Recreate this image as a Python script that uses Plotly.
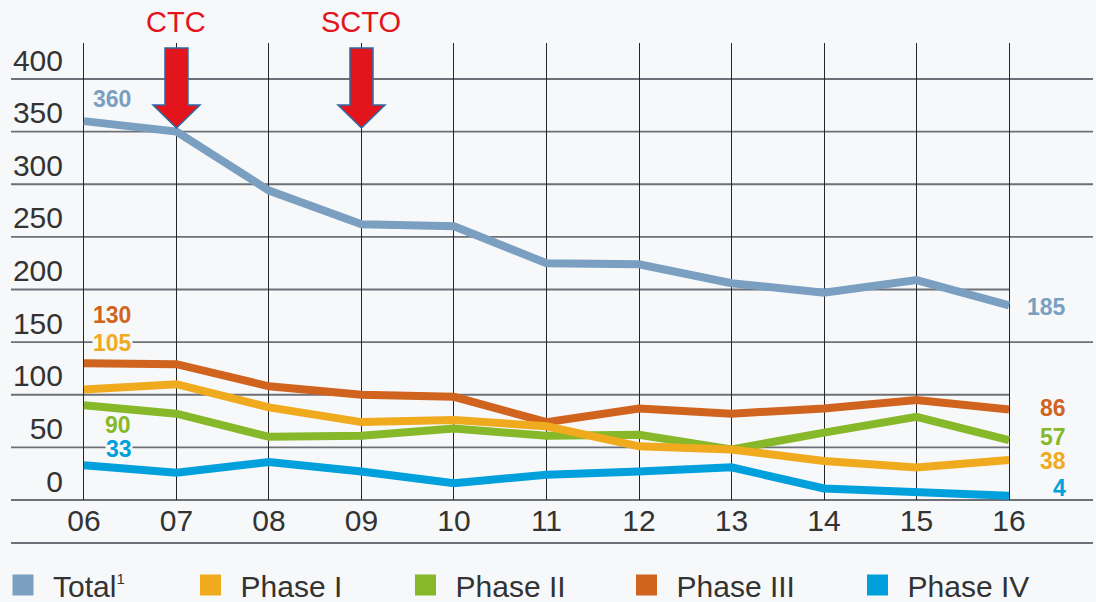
import plotly.graph_objects as go

# Pipeline project counts per year, by development phase
years = ["06", "07", "08", "09", "10", "11", "12", "13", "14", "15", "16"]
total = [360, 350, 294, 262, 260, 225, 224, 206, 197, 209, 185]
phase_1 = [105, 110, 88, 74, 76, 70, 51, 48, 37, 31, 38]
phase_2 = [90, 82, 60, 61, 68, 61, 62, 48, 64, 79, 57]
phase_3 = [130, 129, 108, 100, 98, 74, 87, 82, 87, 95, 86]
phase_4 = [33, 26, 36, 27, 16, 24, 27, 31, 11, 7, 4]

y_ticks = [0, 50, 100, 150, 200, 250, 300, 350, 400]
short_grid = [50, 100, 200]          # gridlines that stop at the last year
milestones = [("CTC", "07"), ("SCTO", "09")]

BG = "#f7f8fa"
TEXT = "#333333"
FONT = "Liberation Sans"
colors = {
    "Total": "#7a9fc0",
    "Phase I": "#f0aa1e",
    "Phase II": "#86b82a",
    "Phase III": "#d0641f",
    "Phase IV": "#00a0dc",
}

W, H = 1096, 602
ML, MR, MT, MB = 64, 3, 43, 102
PW, PH = W - ML - MR, H - MT - MB
X_RANGE = [-0.216, 10.908]
Y_RANGE = [0, 434.2]


def px_x(p):
    return (p - ML) / PW


def px_y(p):
    return (H - MB - p) / PH


def xdata_to_paper(v):
    return (v - X_RANGE[0]) / (X_RANGE[1] - X_RANGE[0])


def ydata_to_paper(v):
    return (v - Y_RANGE[0]) / (Y_RANGE[1] - Y_RANGE[0])


xi = list(range(len(years)))

fig = go.Figure()

# draw order keeps Phase I on top where lines cross
series = [
    ("Total", total),
    ("Phase IV", phase_4),
    ("Phase II", phase_2),
    ("Phase III", phase_3),
    ("Phase I", phase_1),
]
for name, vals in series:
    fig.add_trace(go.Scatter(
        x=xi, y=vals, mode="lines", name=name, showlegend=False,
        line=dict(color=colors[name], width=8),
        hoverinfo="x+y+name",
    ))

# legend entries with square swatches, one legend per entry
legend_items = [
    ("Total<sup><span style='font-size:15px'>1</span></sup>", "Total", 23),
    ("Phase I", "Phase I", 210.5),
    ("Phase II", "Phase II", 425.5),
    ("Phase III", "Phase III", 646.5),
    ("Phase IV", "Phase IV", 877.5),
]
for k, (label, key, cx) in enumerate(legend_items):
    lg = "legend" if k == 0 else f"legend{k + 1}"
    fig.add_trace(go.Scatter(
        x=[None], y=[None], mode="markers", name=label, legend=lg,
        marker=dict(symbol="square", size=16, color=colors[key],
                    line=dict(color=colors[key], width=5)),
    ))
    fig.layout[lg] = dict(
        x=px_x(cx - 30), xanchor="left", y=px_y(585), yanchor="middle",
        orientation="h", bgcolor="rgba(0,0,0,0)", itemwidth=50,
        font=dict(family=FONT, size=30, color=TEXT),
        itemclick=False, itemdoubleclick=False,
    )

# horizontal gridlines
shapes = []
for v in y_ticks:
    x1 = xdata_to_paper(len(years) - 1) if v in short_grid else 1.0
    shapes.append(dict(
        type="line", xref="paper", yref="paper",
        x0=px_x(11), x1=x1, y0=ydata_to_paper(v), y1=ydata_to_paper(v),
        line=dict(color="#6d7076", width=1.8), layer="below",
    ))
# rule between the axis labels and the legend
shapes.append(dict(
    type="line", xref="paper", yref="paper",
    x0=px_x(11), x1=px_x(1093), y0=px_y(543), y1=px_y(543),
    line=dict(color="#6d7076", width=1.8),
))

# milestone arrows pointing down
arrow_path = "M0,0 L-23.5,23 L-11.5,23 L-11.5,80 L11.5,80 L11.5,23 L23.5,23 Z"
annotations = []
for label, yr in milestones:
    xpos = years.index(yr)
    shapes.append(dict(
        type="path", xref="x", yref="y",
        xsizemode="pixel", ysizemode="pixel",
        xanchor=xpos, yanchor=353.4, path=arrow_path,
        fillcolor="#e3141b", line=dict(color="#2c6aa7", width=1.5),
        layer="above",
    ))
    annotations.append(dict(
        x=xpos, y=1, xref="x", yref="paper", text=label, showarrow=False,
        xanchor="center", yanchor="middle", yshift=21,
        font=dict(family=FONT, size=29, color="#e3141b"),
    ))

# value labels at the first and last year
start_labels = [
    ("Total", total, 22, False),
    ("Phase III", phase_3, 48, False),
    ("Phase I", phase_1, 46, True),
    ("Phase II", phase_2, -20, False),
    ("Phase IV", phase_4, 16, True),
]
for name, vals, dy, masked in start_labels:
    ann = dict(
        x=0, y=vals[0], xref="x", yref="y", text=f"<b>{vals[0]}</b>",
        showarrow=False, xanchor="right", yanchor="middle",
        xshift=49, yshift=dy,
        font=dict(family=FONT, size=23, color=colors[name]),
    )
    if masked:
        ann.update(bgcolor=BG, height=22, borderpad=0)
    annotations.append(ann)

end_labels = [
    ("Total", total, -2),
    ("Phase III", phase_3, 1),
    ("Phase II", phase_2, 3),
    ("Phase I", phase_1, -1),
    ("Phase IV", phase_4, 8),
]
last = len(years) - 1
for name, vals, dy in end_labels:
    annotations.append(dict(
        x=last, y=vals[-1], xref="x", yref="y", text=f"<b>{vals[-1]}</b>",
        showarrow=False, xanchor="right", yanchor="middle",
        xshift=59, yshift=dy,
        font=dict(family=FONT, size=23, color=colors[name]),
    ))

fig.update_layout(
    width=W, height=H,
    margin=dict(l=ML, r=MR, t=MT, b=MB, pad=0, autoexpand=False),
    paper_bgcolor=BG, plot_bgcolor=BG,
    font=dict(family=FONT, color=TEXT),
    shapes=shapes, annotations=annotations,
    xaxis=dict(
        range=X_RANGE, tickmode="array", tickvals=xi, ticktext=years,
        showgrid=True, gridcolor="#262626", gridwidth=1,
        zeroline=False, showline=False, ticks="",
        tickfont=dict(family=FONT, size=30, color=TEXT), fixedrange=True,
    ),
    yaxis=dict(
        range=Y_RANGE, tickmode="array", tickvals=y_ticks,
        showgrid=False, zeroline=False, showline=False, ticks="",
        ticklabelshift=-19,
        tickfont=dict(family=FONT, size=30, color=TEXT), fixedrange=True,
    ),
)

fig.write_html("out.html")
